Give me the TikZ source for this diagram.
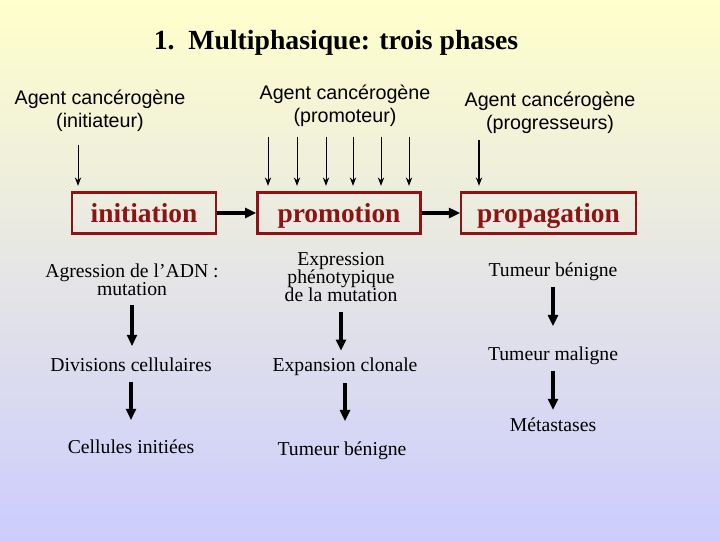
\documentclass[tikz,border=0pt]{standalone}
\usepackage{fontspec}
\setmainfont{Liberation Serif}
\setsansfont{Liberation Sans}
\usetikzlibrary{arrows.meta, positioning}
\definecolor{phasered}{RGB}{140,20,20}
\definecolor{bgtop}{RGB}{255,255,204}
\definecolor{bgbottom}{RGB}{204,204,255}

\begin{document}
\begin{tikzpicture}[x=0.025cm, y=-0.025cm,
  agent/.style={font=\sffamily\fontsize{14pt}{16.3pt}\selectfont, inner sep=0pt},
  phase/.style={rectangle, draw=phasered, line width=1.6pt, text=phasered,
                font=\bfseries\fontsize{19.5pt}{22pt}\selectfont,
                minimum height=29pt, inner sep=0pt, text height=17pt, text depth=4.2pt},
  stage/.style={font=\fontsize{14pt}{13.1pt}\selectfont, inner sep=0pt},
  agentarrow/.style={-{Stealth[length=6pt, width=4.5pt]}, line width=0.7pt, shorten >=4pt},
  arrow/.style={-{Triangle[length=8pt, width=7pt]}, line width=2.2pt},
  chain/.style={arrow, shorten <=6pt, shorten >=9pt},
  every node/.style={align=center}
]

% Background
\useasboundingbox (0,0) rectangle (720,540);
\fill[top color=bgtop, bottom color=bgbottom] (0,0) rectangle (720,540);

% Title
\node[font=\bfseries\fontsize{19.7pt}{22pt}\selectfont] (title) at (336,43)
      {1.~~Multiphasique: trois phases};

% Carcinogenic agents
\node[agent] (ag_init) at (100,110.5) {Agent cancérogène\\(initiateur)};
\node[agent] (ag_prom) at (345,105.5) {Agent cancérogène\\(promoteur)};
\node[agent] (ag_prog) at (550,112.5) {Agent cancérogène\\(progresseurs)};

% Phases
\node[phase, minimum width=102pt] (init)   at (144,213)   {initiation};
\node[phase, minimum width=116pt] (promo)  at (339,213)   {promotion};
\node[phase, minimum width=124pt] (propag) at (548.5,213) {propagation};

\draw[arrow] (init)  -- (promo);
\draw[arrow] (promo) -- (propag);

% Agent arrows
\coordinate (a_init) at (78,145);
\draw[agentarrow] (a_init) -- (a_init |- init.north);
\foreach \x/\n in {268/1, 297/2, 326/3, 353/4, 381/5, 409/6} {
  \coordinate (a_prom\n) at (\x,137);
  \draw[agentarrow] (a_prom\n) -- (a_prom\n |- promo.north);
}
\coordinate (a_prog) at (479,140);
\draw[agentarrow, line width=1.3pt] (a_prog) -- (a_prog |- propag.north);

% Initiation column
\node[stage] (agr) at (132,280) {Agression de l’ADN :\\mutation};
\node[stage] (div) at (131,365) {Divisions cellulaires};
\node[stage] (cel) at (131,447) {Cellules initiées};

% Promotion column
\node[stage] (expr) at (341,277) {Expression\\phénotypique\\de la mutation};
\node[stage] (expa) at (345,367) {Expansion clonale};
\node[stage] (tumb) at (342,451) {Tumeur bénigne};

% Propagation column
\node[stage] (ben)  at (553,272) {Tumeur bénigne};
\node[stage] (mal)  at (553,356) {Tumeur maligne};
\node[stage] (meta) at (553,425) {Métastases};

\draw[chain, shorten >=8.3pt] (agr) -- (agr |- div.north);
\draw[chain, shorten <=7.3pt, shorten >=14pt] (div) -- (div |- cel.north);
\draw[chain, shorten <=7pt, shorten >=5pt] (expr) -- (expr |- expa.north);
\draw[chain, shorten <=5pt, shorten >=14.6pt] (expa) -- (expa |- tumb.north);
\draw[chain, shorten <=3.9pt, shorten >=14.6pt] (ben) -- (mal);
\draw[chain, shorten <=3.9pt, shorten >=5.5pt] (mal) -- (meta);

\end{tikzpicture}
\end{document}
